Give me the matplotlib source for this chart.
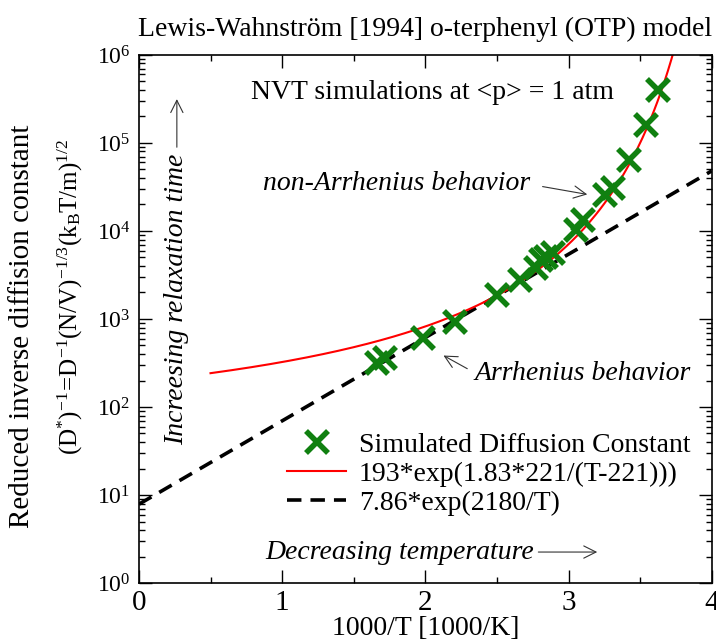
import numpy as np
import matplotlib
matplotlib.use('Agg')
import matplotlib.pyplot as plt
from matplotlib.ticker import LogLocator, MultipleLocator

plt.rcParams['font.family'] = ['Liberation Serif', 'DejaVu Serif']
plt.rcParams['mathtext.fontset'] = 'custom'
plt.rcParams['mathtext.rm'] = 'Liberation Serif'
plt.rcParams['mathtext.it'] = 'Liberation Serif:italic'

# simulated points (x = 1000/T, y = reduced inverse D)
inv_T = [1.66, 1.72, 1.985, 2.21, 2.50, 2.66, 2.776, 2.81, 2.846, 2.892,
         3.055, 3.10, 3.253, 3.311, 3.421, 3.544, 3.623]
inv_D = [315, 357, 603, 933, 1870, 2760, 3770, 4700, 5100, 5580,
         10200, 13300, 25700, 30500, 64000, 160000, 398000]

# fit parameters from the legend
vft_A, vft_B, vft_T0 = 193, 1.83, 221
arr_A, arr_E = 7.86, 2180

fs = 20

fig = plt.figure(figsize=(7.16, 6.39), dpi=100)
ax = fig.add_axes([0.194, 0.0876, 0.80, 0.8264])

x_vft = np.linspace(0.5, 3.76, 400)
T = 1000.0 / x_vft
y_vft = vft_A * np.exp(vft_B * vft_T0 / (T - vft_T0))

x_arr = np.linspace(0, 4, 200)
y_arr = arr_A * np.exp(arr_E * x_arr / 1000.0)

ax.plot(inv_T, inv_D, 'x', color='#108010', ms=16, mew=4,
        label='Simulated Diffusion Constant', zorder=3)
ax.plot(x_vft, y_vft, '-', color='red', lw=1.5,
        label='193*exp(1.83*221/(T-221)))', zorder=2)
ax.plot(x_arr, y_arr, '--', color='black', lw=2.6, dashes=(4, 2.5),
        label='7.86*exp(2180/T)', zorder=1)

ax.set_yscale('log')
ax.set_xlim(0, 4)
ax.set_ylim(1, 1e6)
ax.xaxis.set_major_locator(MultipleLocator(1))
ax.xaxis.set_minor_locator(MultipleLocator(0.5))
ax.yaxis.set_major_locator(LogLocator(base=10, numticks=10))
ax.yaxis.set_minor_locator(LogLocator(base=10, subs=np.arange(2, 10), numticks=20))
ax.tick_params(which='both', direction='in', top=True, right=True)
ax.tick_params(which='major', length=9.5, width=1)
ax.tick_params(which='minor', length=4.5, width=1)
ax.tick_params(axis='x', pad=5, labelsize=21)
ax.tick_params(axis='y', pad=6, labelsize=17)
for s in ax.spines.values():
    s.set_linewidth(1.2)

ax.set_xlabel('1000/T [1000/K]', fontsize=fs, labelpad=0)
ax.set_title('Lewis-Wahnstr\u00f6m [1994] o-terphenyl (OTP) model', fontsize=fs, pad=14)

fig.text(0.031, 0.49, 'Reduced inverse diffision constant', rotation=90,
         ha='center', va='center', fontsize=21)
fig.text(0.098, 0.535, r'$\mathregular{(D^{*})^{-1}\!=\!D^{-1}(N/V)^{-1/3}(k_BT/m)^{1/2}}$',
         rotation=90, ha='center', va='center', fontsize=18)

ax.text(0.78, 10**5.568, 'NVT simulations at <p> = 1 atm', fontsize=fs, va='center')
ax.text(0.866, 10**4.545, 'non-Arrhenius behavior', fontsize=fs, style='italic', va='center')
ax.annotate('', xy=(3.15, 10**4.41), xytext=(2.80, 10**4.51),
            arrowprops=dict(arrowstyle='->', color='#333333', lw=0.8, mutation_scale=22))
ax.text(2.345, 10**2.386, 'Arrhenius behavior', fontsize=fs, style='italic', va='center')
ax.annotate('', xy=(2.11, 10**2.60), xytext=(2.31, 10**2.42),
            arrowprops=dict(arrowstyle='->', color='#333333', lw=0.8, mutation_scale=22))
ax.text(0.265, 10**3.22, 'Increesing relaxation time', fontsize=fs, style='italic',
        rotation=90, ha='center', va='center')
ax.annotate('', xy=(0.265, 10**5.53), xytext=(0.265, 10**4.92),
            arrowprops=dict(arrowstyle='->', color='#333333', lw=0.8, mutation_scale=22))
ax.text(0.88, 10**0.352, 'Decreasing temperature', fontsize=fs, style='italic', va='center')
ax.annotate('', xy=(3.22, 10**0.352), xytext=(2.77, 10**0.352),
            arrowprops=dict(arrowstyle='->', color='#333333', lw=0.8, mutation_scale=22))

ax.legend(loc='upper left', bbox_to_anchor=(0.258, 0.285), frameon=False, fontsize=fs,
          borderpad=0, borderaxespad=0, handlelength=2.15, handletextpad=0.45,
          labelspacing=0.12, numpoints=1)

fig.savefig('out.png', dpi=100)
